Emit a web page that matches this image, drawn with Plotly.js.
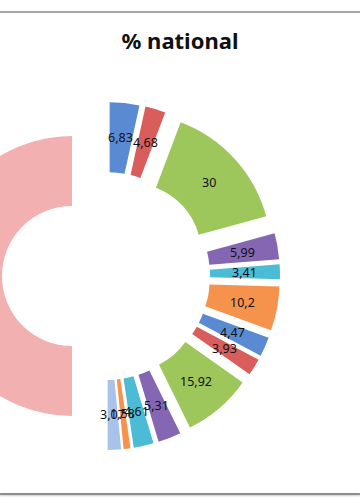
<!DOCTYPE html>
<html>
<head>
<meta charset="utf-8">
<script src="https://cdn.plot.ly/plotly-3.0.1.min.js"></script>
<style>
  html, body { margin: 0; padding: 0; background: #ffffff; }
  #frame { position: absolute; left: 0; top: 0; width: 360px; height: 504px; overflow: hidden; background: #fff; }
  #chart { position: absolute; top: 0; }
  #topline { position: absolute; left: 0; top: 11px; width: 360px; height: 2px; background: #a6a6a6; }
  #botline { position: absolute; left: 0; top: 493px; width: 360px; height: 2px; background: #8c8c8c; box-shadow: 0 1px 2px #c8c8c8; }
</style>
</head>
<body>
<div id="frame">
  <div id="chart"></div>
  <div id="topline"></div>
  <div id="botline"></div>
</div>
<script>
// ---- data ----
var labels = ["A", "B", "C", "D", "E", "F", "G", "H", "I", "J", "K", "L", "M", "Total"];
var values = [6.83, 4.68, 30, 5.99, 3.41, 10.2, 4.47, 3.93, 15.92, 5.31, 4.61, 1.58, 3.07, 100];
var showLabel = [true, true, true, true, true, true, true, true, true, true, true, true, true, false];
var colors = ["#5a8bd2", "#d95d5b", "#9dc65b", "#8566b2", "#4cbcd6", "#f5924b",
              "#5a8bd2", "#d95d5b", "#9dc65b", "#8566b2", "#4cbcd6", "#f5924b",
              "#a9c2ea", "#f2b0b1"];
var titleText = "% national";

// ---- layout geometry (page pixels) ----
var pageW = 360, pageH = 504;
var shiftLeft = 200;              // chart div is wider and shifted left so the donut is clipped
var divW = pageW + shiftLeft;
var centerX = 106, centerY = 276; // donut centre on the page
var radius = 140;
var holeFrac = 0.5;
var pullFrac = 0.243;
var half = radius * (1 + pullFrac);

document.getElementById('chart').style.left = (-shiftLeft) + 'px';

var cxDiv = centerX + shiftLeft;
var cyFromBottom = pageH - centerY;

var fmt = function (v) { return String(v).replace('.', ','); };

// labels placed at the middle of each (pulled) ring slice, derived from the values
var total = values.reduce(function (a, b) { return a + b; }, 0);
var annotations = [];
var cum = 0;
var labelR = radius * (1 + holeFrac) / 2 + radius * pullFrac;
values.forEach(function (v, i) {
  var mid = 2 * Math.PI * (cum + v / 2) / total;
  cum += v;
  if (!showLabel[i]) return;
  var px = cxDiv + labelR * Math.sin(mid);
  var py = centerY - labelR * Math.cos(mid);
  annotations.push({
    x: px / divW, y: 1 - py / pageH, xref: 'paper', yref: 'paper',
    text: fmt(v), showarrow: false, xanchor: 'center', yanchor: 'middle',
    font: { family: 'Noto Sans, Open Sans, sans-serif', size: 12.5, color: '#111111' }
  });
});

var trace = {
  type: 'pie',
  labels: labels,
  values: values,
  textinfo: 'none',
  hole: holeFrac,
  sort: false,
  direction: 'clockwise',
  rotation: 0,
  pull: values.map(function () { return pullFrac; }),
  marker: { colors: colors, line: { width: 0 } },
  domain: {
    x: [(cxDiv - half) / divW, (cxDiv + half) / divW],
    y: [(cyFromBottom - half) / pageH, (cyFromBottom + half) / pageH]
  },
  hoverinfo: 'none'
};

var layout = {
  width: divW,
  height: pageH,
  margin: { l: 0, r: 0, t: 0, b: 0 },
  paper_bgcolor: 'rgba(0,0,0,0)',
  plot_bgcolor: 'rgba(0,0,0,0)',
  showlegend: false,
  separators: ', ',
  annotations: annotations,
  title: {
    text: '<b>' + titleText + '</b>',
    font: { family: 'Noto Sans, Open Sans, sans-serif', size: 22, color: '#111111' },
    x: (180 + shiftLeft) / divW,
    xref: 'paper',
    xanchor: 'center',
    y: 1 - 41 / pageH,
    yref: 'container',
    yanchor: 'middle'
  }
};

Plotly.newPlot('chart', [trace], layout, { displayModeBar: false, staticPlot: true });
</script>
</body>
</html>
